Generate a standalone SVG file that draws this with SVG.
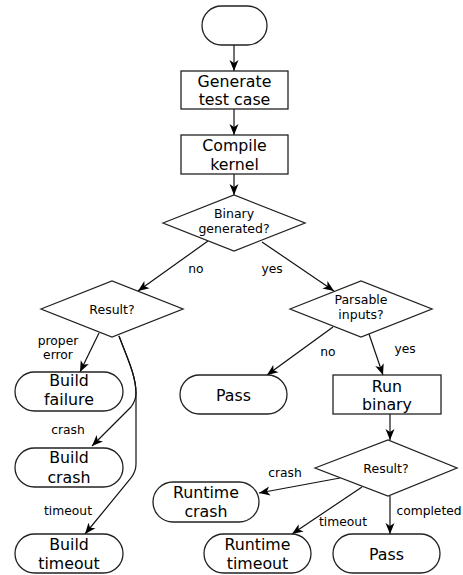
<svg xmlns="http://www.w3.org/2000/svg" width="463" height="575" viewBox="0 0 463 575">
<defs>
<style>
.n{fill:#fff;stroke:#222;stroke-width:1.3}
.c{fill:none;stroke:#111;stroke-width:1.2}
.t{font-family:"DejaVu Sans",sans-serif;font-size:15.8px;fill:#000;text-anchor:middle}
.d{font-family:"DejaVu Sans",sans-serif;font-size:12.5px;fill:#000;text-anchor:middle}
.l{font-family:"DejaVu Sans",sans-serif;font-size:12.3px;fill:#000;text-anchor:middle}
</style>
<marker id="ah" markerUnits="userSpaceOnUse" markerWidth="12" markerHeight="10" refX="11" refY="4.5" orient="auto" viewBox="0 0 12 9">
<path d="M0,0 L11,4.5 L0,9 L3,4.5 z" fill="#000"/>
</marker>
</defs>
<rect width="463" height="575" fill="#fff"/>
<g id="connectors">
<path class="c" marker-end="url(#ah)" d="M234,45 L234,71"/>
<path class="c" marker-end="url(#ah)" d="M234,109 L234,135"/>
<path class="c" marker-end="url(#ah)" d="M234,174 L234,195"/>
<path class="c" marker-end="url(#ah)" d="M208,241 L138,291"/>
<path class="c" marker-end="url(#ah)" d="M262,242 L334,291"/>
<path class="c" marker-end="url(#ah)" d="M99,333 L80,372"/>
<path class="c" marker-end="url(#ah)" d="M119,336 C126,355 136,375 136,393 C136,399 134,403 131,407 L92,446"/>
<path class="c" marker-end="url(#ah)" d="M119,336 C126,355 136,375 136,393 L136,464 C136,470 134,474 131,478 L85,534"/>
<path class="c" marker-end="url(#ah)" d="M333,327 L267,375"/>
<path class="c" marker-end="url(#ah)" d="M369,334 L383,375"/>
<path class="c" marker-end="url(#ah)" d="M390,414 L390,440"/>
<path class="c" marker-end="url(#ah)" d="M340,478 L259,493"/>
<path class="c" marker-end="url(#ah)" d="M362,487 L292,534"/>
<path class="c" marker-end="url(#ah)" d="M390,496 L390,534"/>
<text class="l" x="196" y="273">no</text>
<text class="l" x="272" y="273">yes</text>
<text class="l" x="58" y="345">proper</text>
<text class="l" x="58" y="359">error</text>
<text class="l" x="68" y="434">crash</text>
<text class="l" x="68" y="515">timeout</text>
<text class="l" x="328" y="356">no</text>
<text class="l" x="405" y="353">yes</text>
<text class="l" x="285" y="477">crash</text>
<text class="l" x="343" y="526">timeout</text>
<text class="l" x="429" y="515">completed</text>
</g>
<g id="start">
<rect class="n" x="202" y="6" width="65" height="39" rx="19.5"/>
</g>
<g id="generate">
<rect class="n" x="181" y="71" width="107" height="38"/>
<text class="t" x="234.5" y="86.5">Generate</text>
<text class="t" x="234.5" y="105">test case</text>
</g>
<g id="compile">
<rect class="n" x="181" y="135" width="107" height="39"/>
<text class="t" x="234.5" y="151">Compile</text>
<text class="t" x="234.5" y="170">kernel</text>
</g>
<g id="binary-generated">
<polygon class="n" points="163,223 234,195 305,223 234,251"/>
<text class="d" x="234" y="218">Binary</text>
<text class="d" x="234" y="233">generated?</text>
</g>
<g id="result-build">
<polygon class="n" points="41,309 112,281 183,309 112,337"/>
<text class="d" x="112" y="313.5">Result?</text>
</g>
<g id="parsable">
<polygon class="n" points="290,309 361,281 432,309 361,337"/>
<text class="d" x="361" y="304">Parsable</text>
<text class="d" x="361" y="319">inputs?</text>
</g>
<g id="build-failure">
<rect class="n" x="15" y="372" width="108" height="39" rx="19.5"/>
<text class="t" x="69" y="386">Build</text>
<text class="t" x="69" y="405">failure</text>
</g>
<g id="build-crash">
<rect class="n" x="15" y="448" width="108" height="39" rx="19.5"/>
<text class="t" x="69" y="463">Build</text>
<text class="t" x="69" y="482.5">crash</text>
</g>
<g id="build-timeout">
<rect class="n" x="15" y="534" width="108" height="39" rx="19.5"/>
<text class="t" x="69" y="550">Build</text>
<text class="t" x="69" y="569">timeout</text>
</g>
<g id="pass-1">
<rect class="n" x="180" y="375" width="107" height="39" rx="19.5"/>
<text class="t" x="233.5" y="400.5">Pass</text>
</g>
<g id="run-binary">
<rect class="n" x="333" y="375" width="108" height="39"/>
<text class="t" x="387" y="391.5">Run</text>
<text class="t" x="387" y="410">binary</text>
</g>
<g id="result-run">
<polygon class="n" points="315,468 388,440 457,468 388,496"/>
<text class="d" x="386" y="472.5">Result?</text>
</g>
<g id="runtime-crash">
<rect class="n" x="153" y="482" width="106" height="40" rx="20"/>
<text class="t" x="206" y="498">Runtime</text>
<text class="t" x="206" y="517">crash</text>
</g>
<g id="runtime-timeout">
<rect class="n" x="204" y="534" width="107" height="39" rx="19.5"/>
<text class="t" x="257.5" y="550">Runtime</text>
<text class="t" x="257.5" y="568.5">timeout</text>
</g>
<g id="pass-2">
<rect class="n" x="333" y="534" width="107" height="39" rx="19.5"/>
<text class="t" x="386.5" y="560">Pass</text>
</g>
</svg>
